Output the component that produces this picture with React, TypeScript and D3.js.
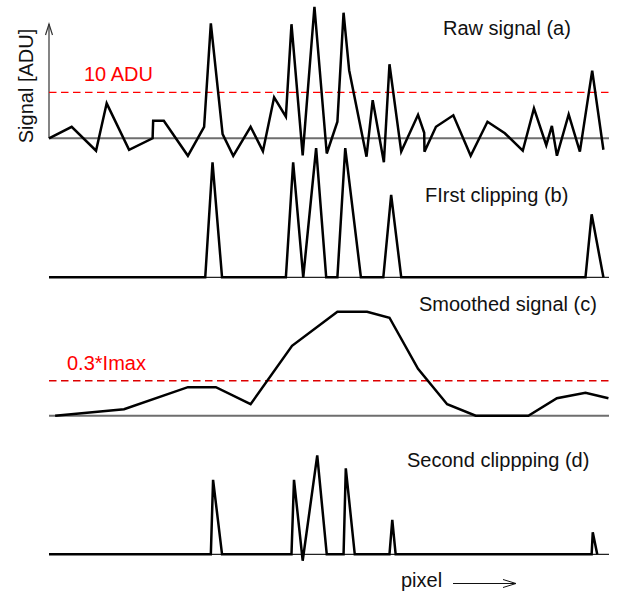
import React from "react";
import * as d3 from "d3";

// x in pixel index (0..100), y in ADU
const rawX = [0, 4.05, 8.4, 10.3, 14.3, 18.5, 18.6, 20.5, 24.8, 27.7, 28.9, 31.0, 32.9, 36.0, 38.2, 40.2, 42.3, 43.3, 45.3, 47.4, 49.6, 51.5, 52.6, 53.6, 56.7, 57.8, 59.8, 60.8, 62.9, 65.9, 67.0, 67.05, 69.1, 72.2, 75.3, 78.3, 81.4, 84.6, 86.6, 88.8, 89.8, 90.7, 92.8, 94.8, 97.0, 99.0];
const rawY = [0, 2.5, -2.7, 7.6, -2.5, 0, 3.8, 3.8, -3.8, 2.5, 25.0, 0.9, -3.8, 2.5, -2.8, 8.9, 4.7, 24.8, -3.7, 28.6, -3.3, 3.6, 27.3, 14.8, -4.0, 8.3, -5.2, 16.1, -2.9, 5.1, 1.2, -2.9, 2.5, 5.0, -3.8, 3.6, 1.1, -2.7, 6.5, -1.5, 2.7, -3.8, 5.2, -2.9, 14.7, -2.5];

const clip1X = [0, 27.9, 29.2, 30.9, 42.3, 43.6, 45.4, 47.7, 49.5, 51.5, 52.9, 55.7, 59.7, 61.1, 62.9, 95.8, 96.9, 99.0];
const clip1Y = [0, 0, 25.0, 0, 0, 25.0, 0, 28.1, 0, 0, 28.1, 0, 0, 17.9, 0, 0, 13.7, 0];

const smoothX = [1.1, 13.4, 24.8, 29.8, 36.0, 43.4, 51.5, 56.8, 60.8, 65.9, 71.1, 76.2, 85.6, 90.7, 95.8, 99.9];
const smoothY = [0, 1.4, 6.2, 6.2, 2.5, 15.2, 22.6, 22.6, 21.3, 10.2, 2.5, 0, 0, 3.8, 5.0, 3.8];

const clip2X = [0, 28.9, 29.3, 30.9, 43.3, 43.75, 45.3, 47.9, 49.6, 52.6, 53.0, 54.6, 60.8, 61.3, 61.9, 96.9, 97.1, 97.9];
const clip2Y = [0, 0, 16.2, 0, 0, 16.2, -1.4, 21.5, 0, 0, 18.7, 0, 0, 7.5, 0, 0, 4.8, 0];

const rawThreshold = 10; // ADU
const smoothThreshold = 7.6;

const titles = ["Raw signal (a)", "FIrst clipping (b)", "Smoothed signal (c)", "Second clippping (d)"];

const W = 623;
const H = 595;
const x = d3.scaleLinear().domain([0, 100]).range([49, 609]);
const pxPerUnit = 4.6;
const baselines = [138.3, 277.3, 415.7, 554.3];
const yFor = (base: number) =>
  d3.scaleLinear().domain([0, 30]).range([base, base - 30 * pxPerUnit]);

const font = "'Liberation Sans', Arial, Helvetica, sans-serif";

function Trace({ xs, ys, base }: { xs: number[]; ys: number[]; base: number }) {
  const y = yFor(base);
  const line = d3
    .line<number>()
    .x((_, i) => x(xs[i]))
    .y((d) => y(d));
  return (
    <path
      d={line(ys) || ""}
      fill="none"
      stroke="#000"
      strokeWidth={2.5}
      strokeLinejoin="miter"
      strokeMiterlimit={4}
    />
  );
}

export default function App() {
  const series = [
    { xs: rawX, ys: rawY },
    { xs: clip1X, ys: clip1Y },
    { xs: smoothX, ys: smoothY },
    { xs: clip2X, ys: clip2Y },
  ];
  const titlePos = [
    { x: 443, y: 35 },
    { x: 425, y: 202 },
    { x: 419, y: 311 },
    { x: 407, y: 467 },
  ];
  const yA = yFor(baselines[0]);
  const yC = yFor(baselines[2]);
  const [x0, x1] = x.range();

  return (
    <svg
      width={W}
      height={H}
      style={{ position: "absolute", left: 0, top: 0, background: "#fff" }}
      fontFamily={font}
    >
      <rect width={W} height={H} fill="#fff" />
      {/* y axis arrow */}
      <line x1={x0} y1={baselines[0]} x2={x0} y2={24} stroke="#333" strokeWidth={1.2} />
      <polyline
        points={`${x0 - 3.5},35 ${x0},24 ${x0 + 3.5},35`}
        fill="none"
        stroke="#333"
        strokeWidth={1.2}
      />
      <text
        transform={`translate(33,86) rotate(-90)`}
        textAnchor="middle"
        fontSize={20}
        fill="#111"
      >
        Signal [ADU]
      </text>

      {/* baselines */}
      {baselines.map((b, i) => (
        <line
          key={i}
          x1={x0}
          x2={x1}
          y1={b}
          y2={b}
          stroke={i % 2 === 0 ? "#6e6e6e" : "#222"}
          strokeWidth={i % 2 === 0 ? 2 : 1.3}
        />
      ))}

      {/* thresholds */}
      <line
        x1={x0}
        x2={x1}
        y1={yA(rawThreshold)}
        y2={yA(rawThreshold)}
        stroke="#ff0000"
        strokeWidth={1.3}
        strokeDasharray="7.5 4.5"
      />
      <text x={84} y={81} fontSize={20} fill="#ff0000">
        10 ADU
      </text>
      <line
        x1={x0}
        x2={x1}
        y1={yC(smoothThreshold)}
        y2={yC(smoothThreshold)}
        stroke="#dd0000"
        strokeWidth={1.3}
        strokeDasharray="7.5 4.5"
      />
      <text x={67} y={370} fontSize={20} fill="#ff0000">
        0.3*Imax
      </text>

      {series.map((s, i) => (
        <Trace key={i} xs={s.xs} ys={s.ys} base={baselines[i]} />
      ))}

      {titles.map((t, i) => (
        <text key={t} x={titlePos[i].x} y={titlePos[i].y} fontSize={20} fill="#111">
          {t}
        </text>
      ))}

      {/* pixel label + arrow */}
      <text x={401} y={587} fontSize={20} fill="#111">
        pixel
      </text>
      <line x1={453} x2={516} y1={583.5} y2={583.5} stroke="#111" strokeWidth={1} />
      <polyline points="503,579.5 516,583.5 503,587.5" fill="none" stroke="#111" strokeWidth={1} />
    </svg>
  );
}
